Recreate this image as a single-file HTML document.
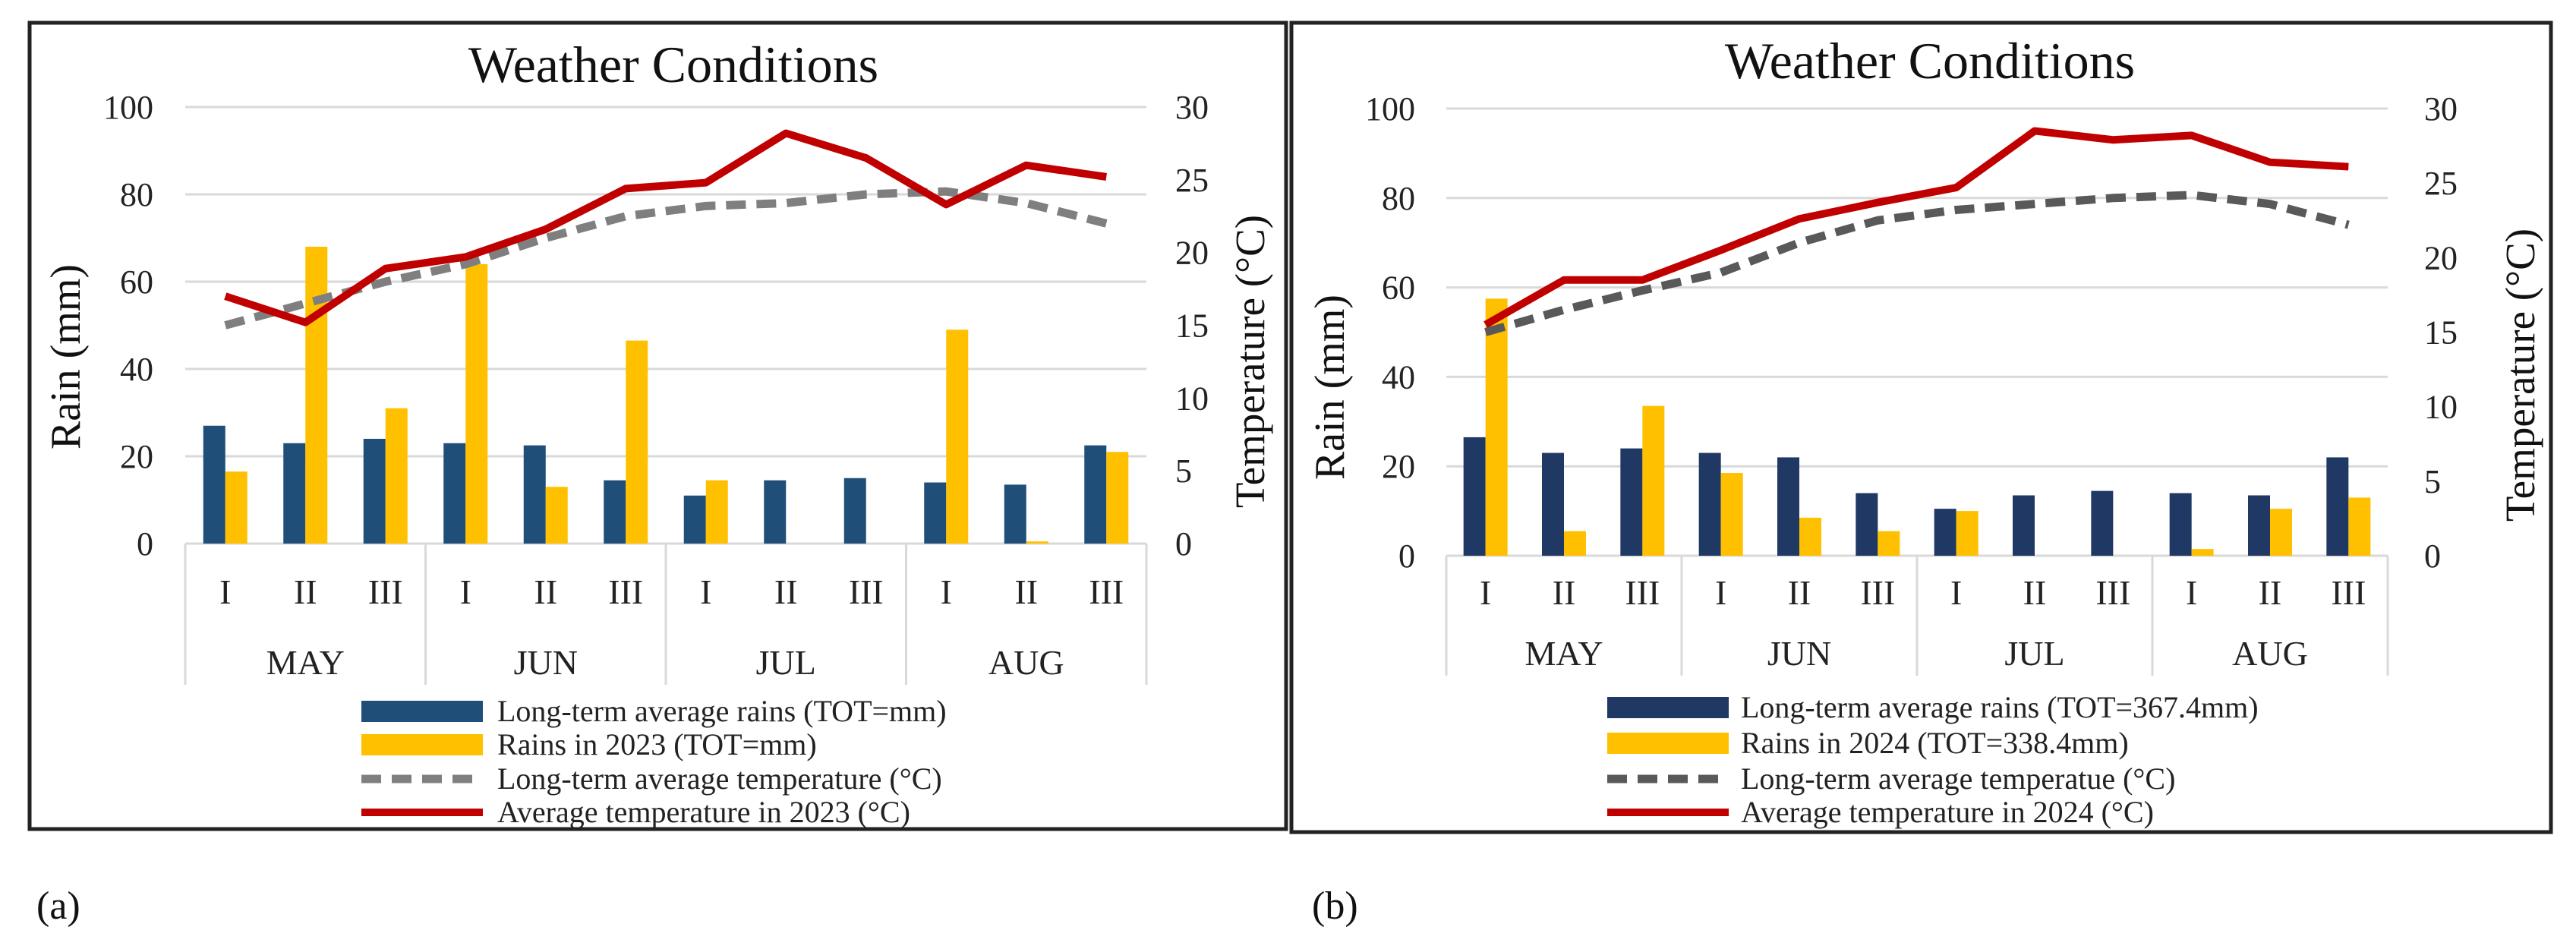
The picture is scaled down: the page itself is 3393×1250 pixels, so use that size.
<!DOCTYPE html>
<html><head><meta charset="utf-8"><style>
html,body{margin:0;padding:0;background:#fff;}
svg{display:block;font-family:"Liberation Serif",serif;}
</style></head><body>
<svg id="root" width="3393" height="1250" viewBox="0 0 3393 1250" xmlns="http://www.w3.org/2000/svg"></svg>
<script>
const categories = ["I","II","III","I","II","III","I","II","III","I","II","III"];
const months = ["MAY","JUN","JUL","AUG"];
const rainTicks = [0,20,40,60,80,100];
const tempTicks = [0,5,10,15,20,25,30];
const a_ltRain = [27,23,24,23,22.5,14.5,11,14.5,15,14,13.5,22.5];
const a_rain = [16.5,68,31,64,13,46.5,14.5,0,0,49,0.5,21];
const a_ltTemp = [15,16.5,18,19.2,21,22.5,23.2,23.4,24,24.2,23.4,22];
const a_temp = [17,15.2,18.9,19.7,21.6,24.4,24.8,28.2,26.5,23.3,26,25.2];
const b_ltRain = [26.5,23,24,23,22,14,10.5,13.5,14.5,14,13.5,22];
const b_rain = [57.5,5.5,33.5,18.5,8.5,5.5,10,0,0,1.5,10.5,13];
const b_ltTemp = [15,16.5,17.8,19,21,22.5,23.2,23.6,24,24.2,23.6,22.2];
const b_temp = [15.5,18.5,18.5,20.5,22.6,23.7,24.7,28.5,27.9,28.2,26.4,26.1];
const a_legend = ["Long-term average rains (TOT=mm)","Rains in 2023 (TOT=mm)","Long-term average temperature (°C)","Average temperature in  2023 (°C)"];
const b_legend = ["Long-term average rains (TOT=367.4mm)","Rains in 2024 (TOT=338.4mm)","Long-term average temperatue (°C)","Average temperature in 2024 (°C)"];

const NS="http://www.w3.org/2000/svg";
const root=document.getElementById('root');
function mk(tag,attrs,parent,text){const e=document.createElementNS(NS,tag);for(const k in attrs)e.setAttribute(k,attrs[k]);if(text!==undefined)e.textContent=text;(parent||root).appendChild(e);return e;}

function chart(cfg){
  const g=mk('g',{});
  
  
  const fr=mk('rect',{x:cfg.fx,y:cfg.fy,width:cfg.fw,height:cfg.fh,fill:'none',stroke:'#222',"stroke-width":5},g);
  
  
  const L=cfg.left,R=cfg.right,T=cfg.top,B=cfg.bottom;
  const yR=v=>B-(v/100)*(B-T);
  const yT=v=>B-(v/30)*(B-T);
  const slot=(R-L)/categories.length;
  const xc=i=>L+slot*(i+0.5);
  const t=mk('text',{x:cfg.titleX,y:cfg.titleY,"font-size":68,"text-anchor":"middle",fill:'#111'},g,"Weather Conditions");
  
  
  rainTicks.forEach(v=>{
    const ln=mk('line',{x1:L,x2:R,y1:yR(v),y2:yR(v),stroke:'#d9d9d9',"stroke-width":3},g);
    
    
    const tx=mk('text',{x:cfg.ltx,y:yR(v)+15,"font-size":44,"text-anchor":"end",fill:'#222'},g,String(v));
    
    
  });
  tempTicks.forEach(v=>{
    const tx=mk('text',{x:cfg.rtx,y:yT(v)+15,"font-size":44,fill:'#222'},g,String(v));
    
    
  });
  const yl=mk('text',{x:0,y:0,"font-size":56,"text-anchor":"middle",fill:'#111',transform:`translate(${cfg.ylx},${cfg.yly}) rotate(-90)`},g,"Rain (mm)");
  
  
  const yr=mk('text',{x:0,y:0,"font-size":55,"text-anchor":"middle",fill:'#111',transform:`translate(${cfg.yrx},${cfg.yry}) rotate(-90)`},g,"Temperature (°C)");
  
  
  for(let m=0;m<=months.length;m++){
    const x=L+slot*3*m;
    const s=mk('line',{x1:x,x2:x,y1:B,y2:cfg.sepB,stroke:'#d9d9d9',"stroke-width":3},g);
    
    
  }
  categories.forEach((c,i)=>{
    const tx=mk('text',{x:xc(i),y:cfg.catY,"font-size":46,"text-anchor":"middle",fill:'#222'},g,c);
    
    
  });
  months.forEach((m,i)=>{
    const tx=mk('text',{x:L+slot*(3*i+1.5),y:cfg.monY,"font-size":46,"text-anchor":"middle",fill:'#222'},g,m);
    
    
  });
  const bw=29;
  cfg.lt.forEach((v,i)=>{
    const r=mk('rect',{x:xc(i)-bw,y:yR(v),width:bw,height:B-yR(v),fill:cfg.blue},g);
    
    
  });
  cfg.rain.forEach((v,i)=>{
    const r=mk('rect',{x:xc(i),y:yR(v),width:bw,height:B-yR(v),fill:'#ffc000'},g);
    
    
  });
  const l1=mk('polyline',{points:cfg.ltT.map((v,i)=>xc(i)+','+yT(v)).join(' '),fill:'none',stroke:cfg.gray,"stroke-width":11,"stroke-dasharray":"26 14","stroke-linejoin":"round"},g);
  
  
  const l2=mk('polyline',{points:cfg.temp.map((v,i)=>xc(i)+','+yT(v)).join(' '),fill:'none',stroke:'#c00000',"stroke-width":10,"stroke-linejoin":"round"},g);
  
  
  const sw=cfg.legX, tw=cfg.legTX;
  cfg.leg.forEach((txt,k)=>{
    const y=cfg.legY[k];
    let s;
    if(k===0) s=mk('rect',{x:sw,y:y-14,width:160,height:28,fill:cfg.blue},g);
    else if(k===1) s=mk('rect',{x:sw,y:y-14,width:160,height:28,fill:'#ffc000'},g);
    else if(k===2) s=mk('line',{x1:sw,x2:sw+160,y1:y,y2:y,stroke:cfg.gray,"stroke-width":11,"stroke-dasharray":"26 14"},g);
    else s=mk('line',{x1:sw,x2:sw+160,y1:y,y2:y,stroke:'#c00000',"stroke-width":10},g);
    
    
    const tx=mk('text',{x:tw,y:y+13,"font-size":40,fill:'#222'},g,txt);
    
    
  });
}
chart({id:'chart-a',fx:39,fy:30,fw:1655,fh:1062,left:244,right:1510,top:141,bottom:716,titleX:887,titleY:108,
  ltx:202,rtx:1548,ylx:105,yly:470,yrx:1665,yry:476,sepB:902,catY:795,monY:888,
  lt:a_ltRain,rain:a_rain,ltT:a_ltTemp,temp:a_temp,blue:'#1f4e79',gray:'#7f7f7f',
  leg:a_legend,legX:476,legTX:655,legY:[937,981,1026,1070]});
chart({id:'chart-b',fx:1701,fy:30,fw:1659,fh:1066,left:1905,right:3145,top:143,bottom:732,titleX:2542,titleY:103,
  ltx:1864,rtx:3193,ylx:1770,yly:510,yrx:3338,yry:494,sepB:890,catY:796,monY:876,
  lt:b_ltRain,rain:b_rain,ltT:b_ltTemp,temp:b_temp,blue:'#1f3864',gray:'#595959',
  leg:b_legend,legX:2117,legTX:2293,legY:[932,979,1026,1070]});
const la=mk('text',{x:48,y:1210,"font-size":52,fill:'#111'},root,"(a)");


const lb=mk('text',{x:1728,y:1210,"font-size":52,fill:'#111'},root,"(b)");


</script>
</body></html>
